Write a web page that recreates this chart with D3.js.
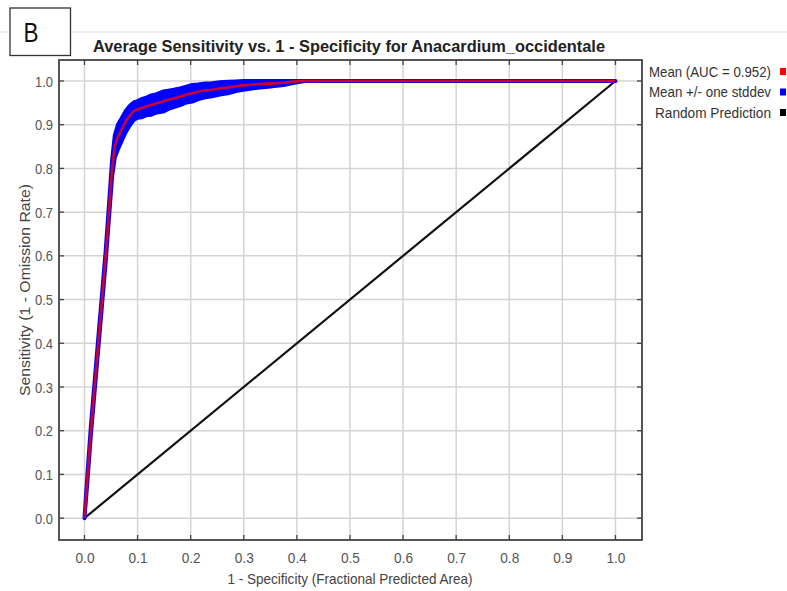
<!DOCTYPE html>
<html>
<head>
<meta charset="utf-8">
<script src="https://cdn.jsdelivr.net/npm/d3@7"></script>
<style>
  html, body { margin: 0; padding: 0; background: #fff; }
  svg { display: block; }
  text { font-family: "Liberation Sans", Arial, sans-serif; }
</style>
</head>
<body>
<svg id="chart" width="787" height="591"></svg>
<script>
// ---- data ----
const titleText = "Average Sensitivity vs. 1 - Specificity for Anacardium_occidentale";
const xLabelText = "1 - Specificity (Fractional Predicted Area)";
const yLabelText = "Sensitivity (1 - Omission Rate)";
const panelLabel = "B";
const ticks = [0, 0.1, 0.2, 0.3, 0.4, 0.5, 0.6, 0.7, 0.8, 0.9, 1.0];

// mean ROC curve (fractional predicted area vs sensitivity)
const fpr  = [0, 0.006, 0.012, 0.019, 0.026, 0.033, 0.040, 0.046, 0.052, 0.057, 0.063, 0.070, 0.078, 0.086, 0.093, 0.100, 0.108, 0.117, 0.126, 0.136, 0.148, 0.158, 0.168, 0.180, 0.192, 0.203, 0.213, 0.225, 0.240, 0.255, 0.270, 0.285, 0.299, 0.315, 0.330, 0.346, 0.362, 0.375, 0.388, 0.400, 0.416, 0.5, 0.6, 0.7, 0.8, 0.9, 1.0];
const sensMean = [0, 0.1, 0.2, 0.3, 0.4, 0.5, 0.6, 0.7, 0.8, 0.85, 0.872, 0.889, 0.908, 0.922, 0.931, 0.935, 0.938, 0.942, 0.945, 0.949, 0.953, 0.957, 0.960, 0.964, 0.969, 0.972, 0.975, 0.978, 0.980, 0.983, 0.985, 0.988, 0.990, 0.992, 0.993, 0.994, 0.995, 0.996, 0.998, 0.999, 1, 1, 1, 1, 1, 1, 1];
const sensSd   = [0, 0.008, 0.01, 0.011, 0.012, 0.012, 0.013, 0.015, 0.019, 0.025, 0.028, 0.026, 0.024, 0.022, 0.02, 0.019, 0.021, 0.02, 0.022, 0.021, 0.023, 0.021, 0.02, 0.019, 0.018, 0.019, 0.017, 0.016, 0.015, 0.014, 0.013, 0.011, 0.010, 0.009, 0.008, 0.007, 0.006, 0.005, 0.004, 0.002, 0, 0, 0, 0, 0, 0, 0];

const randomX = [0, 1];
const randomY = [0, 1];

const legendLabels = ["Mean (AUC = 0.952)", "Mean +/- one stddev", "Random Prediction"];
const legendColors = ["#ff0000", "#0000ff", "#000000"];

// ---- layout ----
const svg = d3.select("#chart");
const W = 787, H = 591;
const plot = { left: 59, top: 60, right: 642, bottom: 540 };

const x = d3.scaleLinear().domain([-0.048, 1.05]).range([plot.left, plot.right]);
const y = d3.scaleLinear().domain([-0.05, 1.048]).range([plot.bottom, plot.top]);

function fitText(sel, len) {
  sel.attr("textLength", len).attr("lengthAdjust", "spacingAndGlyphs");
}

// faint header line
svg.append("line").attr("x1", 0).attr("x2", W).attr("y1", 32).attr("y2", 32)
  .attr("stroke", "#e4e4e4").attr("stroke-width", 1.2);

// panel label box
svg.append("rect").attr("x", 10).attr("y", 8).attr("width", 60.5).attr("height", 47.5)
  .attr("fill", "#fff").attr("stroke", "#333").attr("stroke-width", 1.3);
svg.append("text").attr("x", 31).attr("y", 42).attr("text-anchor", "middle")
  .attr("font-size", 27).attr("fill", "#111").text(panelLabel).call(fitText, 15);

// title
svg.append("text").attr("x", 349).attr("y", 52).attr("text-anchor", "middle")
  .attr("font-size", 17).attr("font-weight", "bold").attr("fill", "#222")
  .text(titleText).call(fitText, 512);

// gridlines
const grid = svg.append("g");
grid.selectAll("line.v").data(ticks).enter().append("line")
  .attr("x1", d => x(d)).attr("x2", d => x(d)).attr("y1", plot.top).attr("y2", plot.bottom)
  .attr("stroke", "#d4d4d4").attr("stroke-width", 1.5);
grid.selectAll("line.h").data(ticks).enter().append("line")
  .attr("y1", d => y(d)).attr("y2", d => y(d)).attr("x1", plot.left).attr("x2", plot.right)
  .attr("stroke", "#d4d4d4").attr("stroke-width", 1.5);

// axes (ticks inside on all sides, labels outside bottom/left)
const axisG = svg.append("g");
const tickLen = 5;
const bottomAxis = d3.axisBottom(x).tickValues(ticks).tickSize(0).tickPadding(0).tickFormat(d3.format(".1f"));
const leftAxis = d3.axisLeft(y).tickValues(ticks).tickSize(0).tickPadding(0).tickFormat(d3.format(".1f"));

const bx = axisG.append("g").attr("transform", `translate(0,${plot.bottom})`).call(bottomAxis);
bx.select(".domain").remove();
bx.selectAll("text").attr("y", 23).attr("dy", 0).attr("font-size", 14).attr("fill", "#555")
  .attr("font-family", "Liberation Sans, Arial, sans-serif").call(fitText, 19);

const ly = axisG.append("g").attr("transform", `translate(${plot.left},0)`).call(leftAxis);
ly.select(".domain").remove();
ly.selectAll("text").attr("x", -6).attr("dy", "0.36em").attr("font-size", 14).attr("fill", "#555")
  .attr("font-family", "Liberation Sans, Arial, sans-serif").call(fitText, 18);

// inner tick marks
const tk = svg.append("g").attr("stroke", "#444").attr("stroke-width", 1.3);
ticks.forEach(t => {
  tk.append("line").attr("x1", x(t)).attr("x2", x(t)).attr("y1", plot.bottom).attr("y2", plot.bottom - tickLen);
  tk.append("line").attr("x1", x(t)).attr("x2", x(t)).attr("y1", plot.top).attr("y2", plot.top + tickLen);
  tk.append("line").attr("y1", y(t)).attr("y2", y(t)).attr("x1", plot.left).attr("x2", plot.left + tickLen);
  tk.append("line").attr("y1", y(t)).attr("y2", y(t)).attr("x1", plot.right).attr("x2", plot.right - tickLen);
});

// data marks
const clip = svg.append("clipPath").attr("id", "clip").append("rect")
  .attr("x", plot.left).attr("y", plot.top).attr("width", plot.right - plot.left).attr("height", plot.bottom - plot.top);
const marks = svg.append("g").attr("clip-path", "url(#clip)");

const pts = fpr.map((f, i) => ({ f, m: sensMean[i], s: sensSd[i] }));

// random prediction
marks.append("path")
  .datum(randomX.map((d, i) => [d, randomY[i]]))
  .attr("d", d3.line().x(d => x(d[0])).y(d => y(d[1])))
  .attr("fill", "none").attr("stroke", "#111").attr("stroke-width", 2.2);

// std dev band
const area = d3.area()
  .x(d => x(d.f))
  .y0(d => y(Math.max(0, d.m - d.s)))
  .y1(d => y(Math.min(1, d.m + d.s)));
marks.append("path").datum(pts).attr("d", area)
  .attr("fill", "#0000ff").attr("stroke", "#0000ff").attr("stroke-width", 4).attr("stroke-linejoin", "round");

// mean line
marks.append("path").datum(pts)
  .attr("d", d3.line().x(d => x(d.f)).y(d => y(d.m)))
  .attr("fill", "none").attr("stroke", "#ff0000").attr("stroke-opacity", 0.8)
  .attr("stroke-width", 2.6).attr("stroke-linejoin", "round");

// frame
svg.append("rect").attr("x", plot.left).attr("y", plot.top)
  .attr("width", plot.right - plot.left).attr("height", plot.bottom - plot.top)
  .attr("fill", "none").attr("stroke", "#444").attr("stroke-width", 1.8);

// axis titles
svg.append("text").attr("x", 350).attr("y", 584).attr("text-anchor", "middle")
  .attr("font-size", 14.5).attr("fill", "#444").text(xLabelText).call(fitText, 245);
svg.append("text").attr("transform", "translate(30,290) rotate(-90)").attr("text-anchor", "middle")
  .attr("font-size", 14.5).attr("fill", "#444").text(yLabelText).call(fitText, 212);

// legend
const legendW = [122, 122, 116];
const leg = svg.append("g");
legendLabels.forEach((lab, i) => {
  const cy = 71.5 + i * 20.5;
  leg.append("text").attr("x", 771).attr("y", cy + 5).attr("text-anchor", "end")
    .attr("font-size", 15).attr("fill", "#333").text(lab).call(fitText, legendW[i]);
  leg.append("rect").attr("x", 780).attr("y", cy - 3.5).attr("width", 6).attr("height", 7)
    .attr("fill", legendColors[i]);
});
</script>
</body>
</html>
